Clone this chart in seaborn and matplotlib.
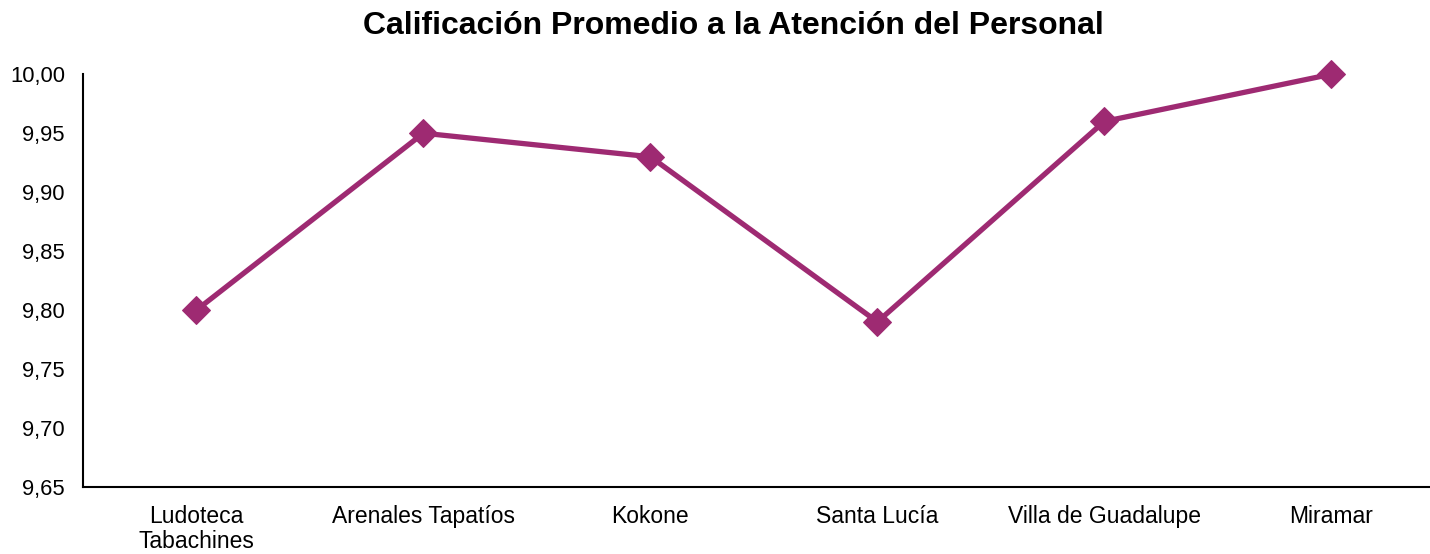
# librerias
import matplotlib
matplotlib.use("Agg")
import matplotlib.pyplot as plt
import seaborn as sns
import pandas as pd
from matplotlib.ticker import FuncFormatter, MultipleLocator

# datos
centros = ["Ludoteca\nTabachines", "Arenales Tapatíos", "Kokone",
           "Santa Lucía", "Villa de Guadalupe", "Miramar"]
calificacion = [9.80, 9.95, 9.93, 9.79, 9.96, 10.00]

df = pd.DataFrame({"centro": centros, "calificacion": calificacion})

sns.set_style("white")
plt.rcParams["font.family"] = ["Liberation Sans", "DejaVu Sans"]

fig = plt.figure(figsize=(14.3, 5.54), dpi=100)
ax = fig.add_axes([0.058, 0.121, 0.9524, 0.745])

sns.lineplot(data=df, x="centro", y="calificacion", sort=False,
             color="#9E2A72", linewidth=3.8, marker="D", markersize=14,
             markeredgecolor="#9E2A72", clip_on=False, ax=ax)

ax.set_xlim(-0.5, len(centros) - 0.5)
ax.set_ylim(9.65, 10.00)
ax.yaxis.set_major_locator(MultipleLocator(0.05))
ax.yaxis.set_major_formatter(FuncFormatter(lambda v, p: f"{v:.2f}".replace(".", ",")))
ax.tick_params(axis="both", length=0, labelsize=15.8, colors="black")
ax.tick_params(axis="x", pad=13, labelsize=16.5)
ax.tick_params(axis="y", pad=13)
for lbl in ax.get_xticklabels():
    lbl.set_linespacing(1.1)
ax.set_xlabel("")
ax.set_ylabel("")

for s in ["top", "right"]:
    ax.spines[s].set_visible(False)
for s in ["left", "bottom"]:
    ax.spines[s].set_color("black")
    ax.spines[s].set_linewidth(1.5)

fig.text(0.513, 0.953, "Calificación Promedio a la Atención del Personal",
         ha="center", va="center", fontsize=23, fontweight="bold", color="black")

plt.savefig("out.png", dpi=100)
